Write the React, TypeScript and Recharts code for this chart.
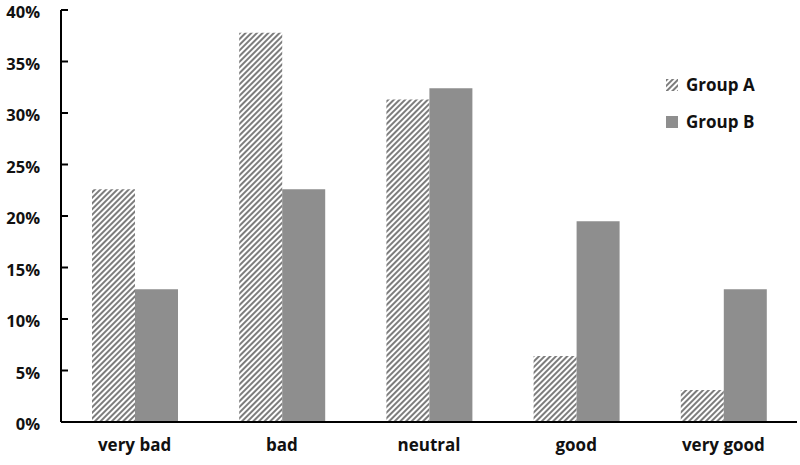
import { Bar, BarChart, Legend, XAxis, YAxis } from 'recharts'

const categories = ['very bad', 'bad', 'neutral', 'good', 'very good']
const groupA = [22.6, 37.8, 31.3, 6.4, 3.1]
const groupB = [12.9, 22.6, 32.4, 19.5, 12.9]
const yTicks = [0, 5, 10, 15, 20, 25, 30, 35, 40]

const data = categories.map((name, i) => ({ name, 'Group A': groupA[i], 'Group B': groupB[i] }))

const FONT = '"Open Sans", "Liberation Sans", sans-serif'
const GREY = '#8e8e8e'

function YTick(props: any) {
  const { x, y, payload } = props
  return (
    <g>
      <line x1={x + 21} x2={x + 28} y1={y} y2={y} stroke="#000" strokeWidth={2} />
      <text x={x} y={y} dy={8} textAnchor="end" fontFamily={FONT} fontWeight={700} fontSize={16.5} fill="#111">
        {payload.value}%
      </text>
    </g>
  )
}

function LegendBox() {
  const row = (label: string, fill: string) => (
    <div style={{ display: 'flex', alignItems: 'center', height: 37 }}>
      <svg width={12} height={12} style={{ marginRight: 8 }}>
        <rect width={12} height={12} fill={fill} />
      </svg>
      <span style={{ fontFamily: FONT, fontWeight: 700, fontSize: 17, color: '#111' }}>{label}</span>
    </div>
  )
  return (
    <div>
      {row('Group A', 'url(#hatch)')}
      {row('Group B', GREY)}
    </div>
  )
}

export default function App() {
  return (
    <div style={{ position: 'absolute', left: 0, top: 0 }}>
      <BarChart
        width={800}
        height={465}
        data={data}
        margin={{ top: 10, right: 3, bottom: 0, left: 0 }}
        barGap={0}
      >
        <defs>
          <pattern id="hatch" patternUnits="userSpaceOnUse" width={4} height={4} patternTransform="rotate(45)">
            <rect width={4} height={4} fill="#fff" />
            <line x1={1} y1={0} x2={1} y2={4} stroke="#6e6e6e" strokeWidth={1.8} />
          </pattern>
        </defs>
        <XAxis
          dataKey="name"
          tickLine={false}
          axisLine={{ stroke: '#000', strokeWidth: 2 }}
          tickSize={0}
          tickMargin={17}
          height={43}
          tick={{ fontFamily: FONT, fontWeight: 700, fontSize: 17, fill: '#111' }}
        />
        <YAxis
          domain={[0, 40]}
          ticks={yTicks}
          interval={0}
          width={61}
          tickLine={false}
          tickSize={0}
          tickMargin={21}
          axisLine={{ stroke: '#000', strokeWidth: 2 }}
          tick={<YTick />}
        />
        <Legend
          layout="vertical"
          align="center"
          verticalAlign="middle"
          content={<LegendBox />}
          wrapperStyle={{ position: 'absolute', left: 666, top: 66, width: 120 }}
        />
        <Bar dataKey="Group A" fill="url(#hatch)" barSize={43} isAnimationActive={false} />
        <Bar dataKey="Group B" fill={GREY} barSize={43} isAnimationActive={false} />
      </BarChart>
    </div>
  )
}
